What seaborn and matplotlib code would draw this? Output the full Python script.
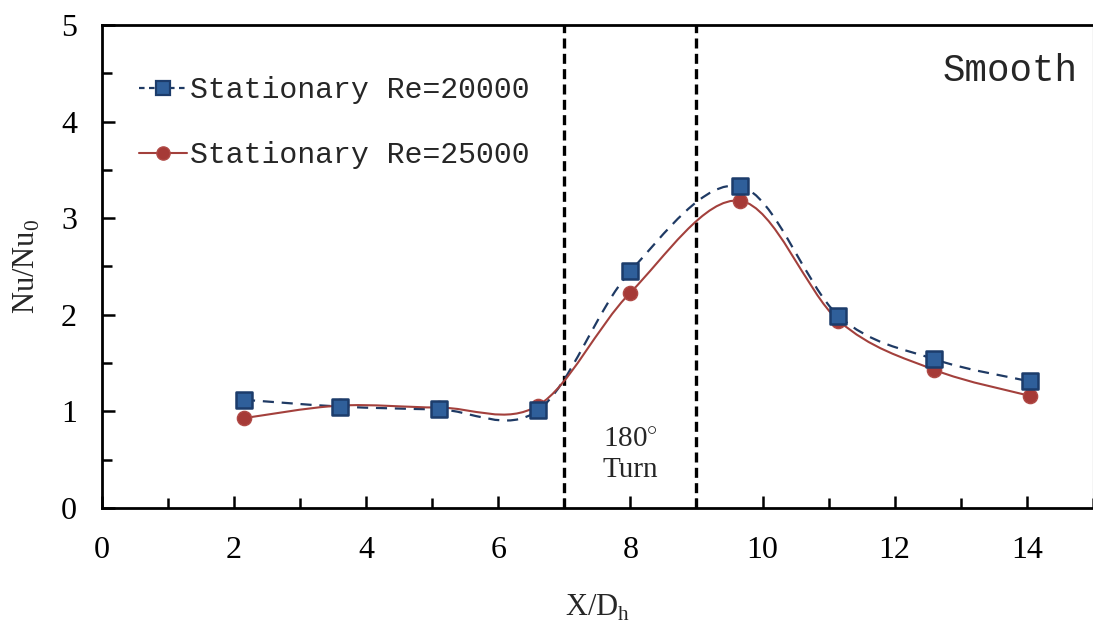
import numpy as np
import pandas as pd
import seaborn as sns
import matplotlib
matplotlib.use("Agg")
import matplotlib.pyplot as plt
from matplotlib.path import Path
from matplotlib.patches import PathPatch
from matplotlib.lines import Line2D
from matplotlib.ticker import MultipleLocator

# Streamwise stations (X/Dh)
x_pos = [2.15, 3.6, 5.1, 6.6, 8.0, 9.66, 11.15, 12.6, 14.05]
# Normalised Nusselt number Nu/Nu0
nu_re20000 = [1.12, 1.05, 1.02, 1.01, 2.45, 3.33, 1.99, 1.54, 1.31]
nu_re25000 = [0.93, 1.06, 1.04, 1.06, 2.23, 3.18, 1.94, 1.43, 1.16]
series_labels = ["Stationary Re=20000", "Stationary Re=25000"]
turn_bounds = [7, 9]

sns.set_style("ticks")
plt.rcParams["font.family"] = ["Liberation Serif", "DejaVu Serif"]
plt.rcParams["mathtext.fontset"] = "custom"
plt.rcParams["mathtext.rm"] = "Liberation Serif"

fig = plt.figure(figsize=(10.93, 6.21), dpi=100)
ax = fig.add_axes([0.0933, 0.182, 0.9065, 0.7778])

blue_face, blue_edge, blue_line = "#2F5F9A", "#1C3C6B", "#1F3A64"
red_face, red_edge, red_line = "#A63A37", "#B04A46", "#A3403C"


def smooth_path(xs, ys):
    """Bezier path through the points, tangents from neighbouring points."""
    p = np.column_stack([xs, ys]).astype(float)
    n = len(p)
    verts = [p[0]]
    codes = [Path.MOVETO]
    for i in range(n - 1):
        p_prev = p[i - 1] if i > 0 else p[i]
        p_next2 = p[i + 2] if i + 2 < n else p[i + 1]
        c1 = p[i] + (p[i + 1] - p_prev) / 6.0
        c2 = p[i + 1] - (p_next2 - p[i]) / 6.0
        verts += [c1, c2, p[i + 1]]
        codes += [Path.CURVE4] * 3
    return Path(verts, codes)


ax.add_patch(PathPatch(smooth_path(x_pos, nu_re20000), fill=False,
                       edgecolor=blue_line, lw=1.6, ls=(0, (5, 3.5)), zorder=2))
ax.add_patch(PathPatch(smooth_path(x_pos, nu_re25000), fill=False,
                       edgecolor=red_line, lw=1.5, zorder=2))

df = pd.DataFrame({"x": x_pos * 2,
                   "nu": nu_re20000 + nu_re25000,
                   "series": [series_labels[0]] * len(x_pos) + [series_labels[1]] * len(x_pos)})
sns.scatterplot(data=df[df.series == series_labels[0]], x="x", y="nu", marker="s",
                s=125, color=blue_face, edgecolor=blue_edge, linewidth=1.8,
                ax=ax, zorder=4, legend=False)
sns.scatterplot(data=df[df.series == series_labels[1]], x="x", y="nu", marker="o",
                s=105, color=red_face, edgecolor=red_edge, linewidth=1.0,
                ax=ax, zorder=3, legend=False)

for xb in turn_bounds:
    ax.axvline(xb, color="black", lw=2.4, ls=(0, (3, 1.6)), zorder=1)

ax.text(8.0, 0.55, "180$^{\\circ}$\nTurn", ha="center", va="center",
        fontsize=21, linespacing=1.2)
ax.text(0.985, 0.905, "Smooth", transform=ax.transAxes, ha="right", va="center",
        fontsize=27, family=["Liberation Mono", "DejaVu Sans Mono"])

ax.set_xlim(0, 15)
ax.set_ylim(0, 5)
ax.xaxis.set_major_locator(MultipleLocator(2))
ax.xaxis.set_minor_locator(MultipleLocator(1))
ax.yaxis.set_major_locator(MultipleLocator(1))
ax.yaxis.set_minor_locator(MultipleLocator(0.5))
ax.tick_params(which="both", direction="in", width=1.8, labelsize=23, colors="black")
ax.tick_params(which="major", length=9)
ax.tick_params(which="minor", length=7)
ax.tick_params(axis="x", pad=20)
ax.tick_params(axis="y", pad=18)
for side in ["left", "bottom", "top"]:
    ax.spines[side].set_linewidth(2.0)
    ax.spines[side].set_color("black")
ax.spines["right"].set_linewidth(1.0)
ax.spines["right"].set_color("#cccccc")

ax.set_xlabel("X/D$_{\\mathregular{h}}$", fontsize=22, labelpad=20)
ax.set_ylabel("Nu/Nu$_{\\mathregular{0}}$", fontsize=22, labelpad=14)

handles = [
    Line2D([], [], color=blue_line, lw=1.6, ls=(0, (2.5, 2)), marker="s", markersize=10,
           markerfacecolor=blue_face, markeredgecolor=blue_edge, markeredgewidth=1.6),
    Line2D([], [], color=red_line, lw=1.5, marker="o", markersize=9.5,
           markerfacecolor=red_face, markeredgecolor=red_edge),
]
ax.legend(handles, series_labels, loc="upper left", bbox_to_anchor=(0.01, 0.95),
          frameon=False, handlelength=1.6, handletextpad=0.1, labelspacing=1.25,
          prop={"family": ["Liberation Mono", "DejaVu Sans Mono"], "size": 21.5})

fig.savefig("out.png", dpi=100)
